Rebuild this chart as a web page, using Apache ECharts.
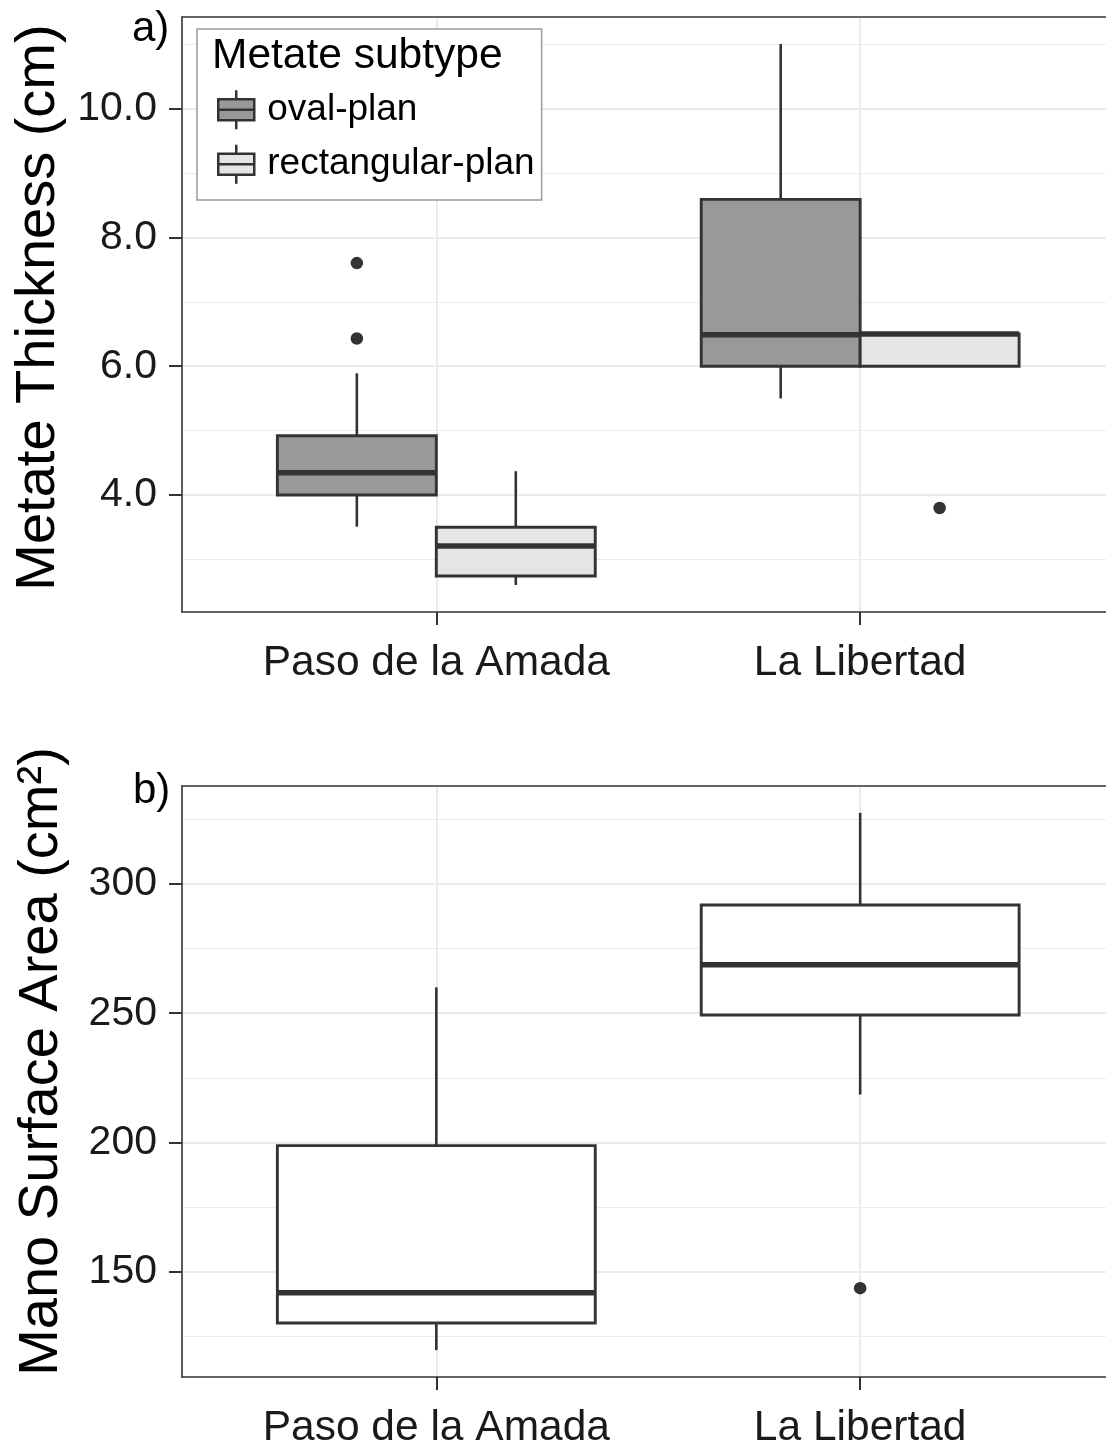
<!DOCTYPE html>
<html>
<head>
<meta charset="utf-8">
<script src="https://cdn.jsdelivr.net/npm/echarts@6/dist/echarts.min.js"></script>
<style>
  html, body { margin: 0; padding: 0; background: #ffffff; }
  #chart { width: 1106px; height: 1450px; }
</style>
</head>
<body>
<div id="chart"></div>
<script>
// Sites along the x axis and metate subtypes (fill groups)
const sites = ['Paso de la Amada', 'La Libertad'];
const subtypes = ['oval-plan', 'rectangular-plan'];

// Five-number summaries per site: [lower whisker, Q1, median, Q3, upper whisker]
const ovalThickness = [[3.51, 4.0, 4.345, 4.92, 5.89], [5.5, 6.0, 6.49, 8.59, 11.0]];
const rectThickness = [[2.605, 2.745, 3.21, 3.5, 4.37], [6.0, 6.0, 6.5, 6.5, 6.5]];
// Outliers: [site index, value]
const ovalOutliers = [[0, 7.6], [0, 6.43]];
const rectOutliers = [[1, 3.8]];

const manoArea = [[119.5, 130.0, 141.7, 198.7, 260.0], [218.5, 249.3, 268.8, 291.9, 327.6]];
const manoOutliers = [[1, 143.5]];

// Tick labels
const thicknessTicks = [4, 6, 8, 10];
const areaTicks = [150, 200, 250, 300];

const FONT = '"Liberation Sans", Arial, Helvetica, sans-serif';
const INK = '#333333';
const TEXT = '#1a1a1a';
const GRID = '#ebebeb';
const fills = { 'oval-plan': '#999999', 'rectangular-plan': '#e5e5e5', single: '#ffffff' };

// ggplot-style discrete axis: categories at 1 and 2, 0.6 units of padding on the left
const X_MIN = 0.4, X_MAX = 2.58;
const DODGE = 0.75;
function boxX(siteIdx, groupIdx, nGroups) {
  const w = DODGE / nGroups;
  return siteIdx + 1 - DODGE / 2 + w * (groupIdx + 0.5);
}
function range(arrs) {
  const all = arrs.flat();
  const lo = Math.min(...all), hi = Math.max(...all);
  const pad = (hi - lo) * 0.05;
  return [lo - pad, hi + pad];
}
const thickRange = range([ovalThickness.flat(), rectThickness.flat(), ovalOutliers.map(d => d[1]), rectOutliers.map(d => d[1])]);
const areaRange = range([manoArea.flat(), manoOutliers.map(d => d[1])]);

function boxRenderer(widthUnits, fill) {
  return function (params, api) {
    const x = api.value(0);
    const pts = [1, 2, 3, 4, 5].map(d => api.coord([x, api.value(d)]));
    const cx = pts[0][0];
    const w = api.size([widthUnits, 0])[0];
    const [pMin, pQ1, pMed, pQ3, pMax] = pts.map(p => p[1]);
    return {
      type: 'group',
      children: [
        { type: 'line', shape: { x1: cx, y1: pQ3, x2: cx, y2: pMax }, style: { stroke: INK, lineWidth: 2.6 } },
        { type: 'line', shape: { x1: cx, y1: pQ1, x2: cx, y2: pMin }, style: { stroke: INK, lineWidth: 2.6 } },
        { type: 'rect', shape: { x: cx - w / 2, y: pQ3, width: w, height: pQ1 - pQ3 }, style: { fill: fill, stroke: INK, lineWidth: 2.9 } },
        { type: 'line', shape: { x1: cx - w / 2, y1: pMed, x2: cx + w / 2, y2: pMed }, style: { stroke: INK, lineWidth: 5.5 } }
      ]
    };
  };
}

const frameLine = { show: true, lineStyle: { color: INK, width: 1.6 } };

function xAxis(gridIndex) {
  return {
    type: 'value', gridIndex: gridIndex, min: X_MIN, max: X_MAX,
    axisLine: frameLine,
    axisTick: { show: true, length: 13, customValues: [1, 2], lineStyle: { color: INK, width: 2 } },
    axisLabel: {
      customValues: [1, 2], margin: 30, fontSize: 42.5, fontFamily: FONT, color: TEXT,
      formatter: v => sites[Math.round(v) - 1]
    },
    splitLine: { show: true, lineStyle: { color: GRID, width: 2 } }
  };
}
// top edge of each panel (the right edge runs past the page)
function topFrame(gridIndex) {
  return {
    type: 'value', gridIndex: gridIndex, position: 'top', min: X_MIN, max: X_MAX,
    axisLine: frameLine, axisTick: { show: false }, axisLabel: { show: false },
    splitLine: { show: false }
  };
}
function yAxis(gridIndex, rng, ticks, digits, name, shift) {
  return {
    type: 'value', gridIndex: gridIndex, min: rng[0], max: rng[1],
    name: name, nameLocation: 'middle', nameGap: 112,
    nameTextStyle: { fontSize: 56, fontFamily: FONT, color: '#000000', padding: [0, 0, 0, shift] },
    axisLine: frameLine,
    axisTick: { show: true, length: 13, customValues: ticks, lineStyle: { color: INK, width: 2 } },
    axisLabel: {
      customValues: ticks, margin: 25, fontSize: 41, fontFamily: FONT, color: TEXT,
      formatter: v => v.toFixed(digits)
    },
    splitLine: { show: true, lineStyle: { color: GRID, width: 2 } },
    minorTick: { show: false, splitNumber: 2 },
    minorSplitLine: { show: true, lineStyle: { color: GRID, width: 1.2 } }
  };
}

const legendIcon = 'path://M18,0L18,9M0,9L36,9L36,30L0,30ZM0,19.5L36,19.5M18,30L18,39';

const option = {
  backgroundColor: '#ffffff',
  animation: false,
  grid: [
    { left: 182, top: 17, right: 0, height: 595 },
    { left: 182, top: 786, right: 0, height: 594 }
  ],
  xAxis: [xAxis(0), xAxis(1), topFrame(0), topFrame(1)],
  yAxis: [
    yAxis(0, thickRange, thicknessTicks, 1, 'Metate Thickness (cm)', 14),
    yAxis(1, areaRange, areaTicks, 0, 'Mano Surface Area (cm²)', 40)
  ],
  legend: {
    orient: 'vertical', left: 197, top: 29,
    padding: [60, 7, 15, 20], itemGap: 13, itemWidth: 36, itemHeight: 39,
    borderColor: '#9a9a9a', borderWidth: 1.5, backgroundColor: '#ffffff',
    icon: legendIcon, selectedMode: false,
    textStyle: { fontSize: 37, fontFamily: FONT, color: '#000000', padding: [0, 0, 0, 8] },
    data: subtypes.map(s => ({ name: s, itemStyle: { color: fills[s], borderColor: INK, borderWidth: 2.5 } }))
  },
  graphic: [
    { type: 'text', left: 212, top: 35, z: 100, style: { text: 'Metate subtype', font: '42.5px ' + FONT, fill: '#000000' } },
    { type: 'text', left: 132, top: 8, z: 100, style: { text: 'a)', font: '42px ' + FONT, fill: '#000000' } },
    { type: 'text', left: 133, top: 770, z: 100, style: { text: 'b)', font: '42px ' + FONT, fill: '#000000' } }
  ],
  series: [
    {
      type: 'custom', name: 'oval-plan', xAxisIndex: 0, yAxisIndex: 0,
      itemStyle: { color: fills['oval-plan'], borderColor: INK, borderWidth: 2.5 },
      renderItem: boxRenderer(DODGE / 2, fills['oval-plan']),
      encode: { x: 0, y: [1, 2, 3, 4, 5] },
      data: ovalThickness.map((s, i) => [boxX(i, 0, 2)].concat(s))
    },
    {
      type: 'custom', name: 'rectangular-plan', xAxisIndex: 0, yAxisIndex: 0,
      itemStyle: { color: fills['rectangular-plan'], borderColor: INK, borderWidth: 2.5 },
      renderItem: boxRenderer(DODGE / 2, fills['rectangular-plan']),
      encode: { x: 0, y: [1, 2, 3, 4, 5] },
      data: rectThickness.map((s, i) => [boxX(i, 1, 2)].concat(s))
    },
    {
      type: 'scatter', xAxisIndex: 0, yAxisIndex: 0, symbolSize: 12.5,
      itemStyle: { color: INK, opacity: 1 }, silent: true,
      data: ovalOutliers.map(d => [boxX(d[0], 0, 2), d[1]])
        .concat(rectOutliers.map(d => [boxX(d[0], 1, 2), d[1]]))
    },
    {
      type: 'custom', name: 'mano', xAxisIndex: 1, yAxisIndex: 1,
      itemStyle: { color: fills.single, borderColor: INK, borderWidth: 2.5 },
      renderItem: boxRenderer(DODGE, fills.single),
      encode: { x: 0, y: [1, 2, 3, 4, 5] },
      data: manoArea.map((s, i) => [boxX(i, 0, 1)].concat(s))
    },
    {
      type: 'scatter', xAxisIndex: 1, yAxisIndex: 1, symbolSize: 12.5,
      itemStyle: { color: INK, opacity: 1 }, silent: true,
      data: manoOutliers.map(d => [boxX(d[0], 0, 1), d[1]])
    }
  ]
};

const chart = echarts.init(document.getElementById('chart'), null, { renderer: 'canvas' });
chart.setOption(option);
</script>
</body>
</html>
